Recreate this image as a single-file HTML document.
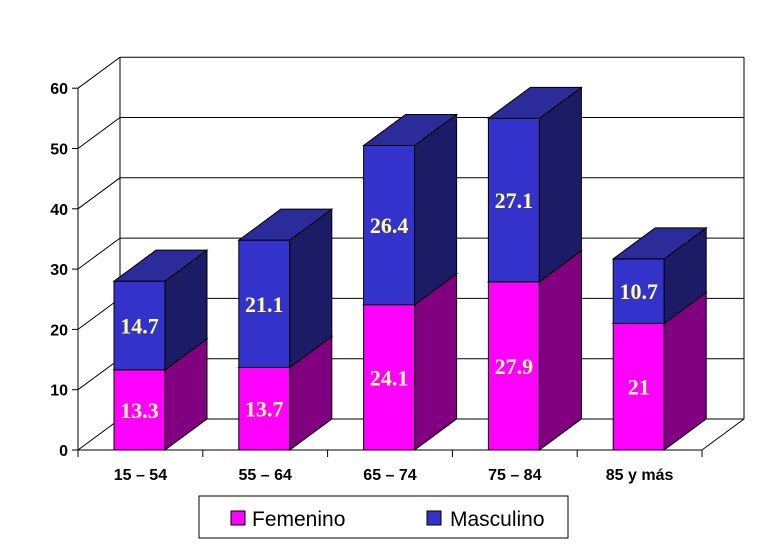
<!DOCTYPE html>
<html><head><meta charset="utf-8"><style>
html,body{margin:0;padding:0;background:#fff;}
svg{display:block;}
</style></head><body>
<svg id="chart" width="780" height="548" xmlns="http://www.w3.org/2000/svg"></svg>
<script>
const categories = ["15 – 54","55 – 64","65 – 74","75 – 84","85 y más"];
const femenino = [13.3,13.7,24.1,27.9,21];
const masculino = [14.7,21.1,26.4,27.1,10.7];
const yTicks = [0,10,20,30,40,50,60];

const NS="http://www.w3.org/2000/svg";
const svg=document.getElementById('chart');
const x0=78, y0=450, pxPerUnit=6.03, catW=124.8, barW=51, barOff=36, dx=42, dy=-31, wdx=42, wdy=-31;
const xRight = x0 + catW*categories.length;
function yS(v){return y0 - v*pxPerUnit;}
function el(tag,attrs,parent){const e=document.createElementNS(NS,tag);for(const k in attrs)e.setAttribute(k,attrs[k]);(parent||svg).appendChild(e);return e;}

const grid=el('g',{});


yTicks.forEach(t=>{
  const y=yS(t);
  const ln=el('polyline',{points:`${x0},${y} ${x0+wdx},${y+wdy} ${xRight+wdx},${y+wdy}`,fill:'none',stroke:'#000','stroke-width':1},grid);
  
  
  el('line',{x1:x0-6,y1:y,x2:x0,y2:y,stroke:'#000'},grid);
  const lb=el('text',{x:x0-10,y:y+6,'text-anchor':'end','font-family':'Liberation Sans, sans-serif','font-weight':'bold','font-size':'16'},grid);
  lb.textContent=t;
  
  
});
const topY=yS(60);
el('line',{x1:x0,y1:y0,x2:x0,y2:topY,stroke:'#000'});
el('line',{x1:x0+wdx,y1:y0+wdy,x2:x0+wdx,y2:topY+wdy,stroke:'#000'});
el('line',{x1:xRight+wdx,y1:y0+wdy,x2:xRight+wdx,y2:topY+wdy,stroke:'#000'});
el('line',{x1:x0,y1:y0,x2:xRight,y2:y0,stroke:'#000'});
el('line',{x1:xRight,y1:y0,x2:xRight+wdx,y2:y0+wdy,stroke:'#000'});

function box(x,yb,yt,front,side,topc,name){
  const g=el('g',{});
  
  
  el('polygon',{points:`${x},${yb} ${x+barW},${yb} ${x+barW},${yt} ${x},${yt}`,fill:front,stroke:'#000'},g);
  el('polygon',{points:`${x+barW},${yb} ${x+barW+dx},${yb+dy} ${x+barW+dx},${yt+dy} ${x+barW},${yt}`,fill:side,stroke:'#000'},g);
  el('polygon',{points:`${x},${yt} ${x+barW},${yt} ${x+barW+dx},${yt+dy} ${x+dx},${yt+dy}`,fill:topc,stroke:'#000'},g);
  return g;
}
function valText(x,y,v,name){
  const t=el('text',{x:x+barW/2,y:y+8,'text-anchor':'middle','font-family':'Liberation Serif, serif','font-weight':'bold','font-size':'22',fill:'#FFFF99'});
  t.textContent=v;
  
  
}
categories.forEach((c,i)=>{
  const x=x0+catW*i+barOff;
  const f=femenino[i], m=masculino[i];
  box(x,yS(0),yS(f),'#FF00FF','#800080','#CC00CC','bar-femenino-'+i);
  box(x,yS(f),yS(f+m),'#3333CC','#1C1C66','#2B2B99','bar-masculino-'+i);
  valText(x,(yS(0)+yS(f))/2,f,'value-femenino-'+i);
  valText(x,(yS(f)+yS(f+m))/2,m,'value-masculino-'+i);
  el('line',{x1:x0+catW*i,y1:y0,x2:x0+catW*i,y2:y0+7,stroke:'#000'});
  const lb=el('text',{x:x0+catW*(i+0.5),y:y0+30,'text-anchor':'middle','font-family':'Liberation Sans, sans-serif','font-weight':'bold','font-size':'16'});
  lb.textContent=c;
  
  
});
el('line',{x1:xRight,y1:y0,x2:xRight,y2:y0+7,stroke:'#000'});

const lg=el('g',{});


el('rect',{x:199,y:496,width:369,height:42,fill:'#fff',stroke:'#000'},lg);
el('rect',{x:231,y:511,width:14,height:14,fill:'#FF00FF',stroke:'#000'},lg);
const t1=el('text',{x:252,y:526,'font-family':'Liberation Sans, sans-serif','font-size':'21'},lg);
t1.textContent='Femenino';


el('rect',{x:427,y:511,width:14,height:14,fill:'#3333CC',stroke:'#000'},lg);
const t2=el('text',{x:450,y:526,'font-family':'Liberation Sans, sans-serif','font-size':'21'},lg);
t2.textContent='Masculino';


</script>
</body></html>
